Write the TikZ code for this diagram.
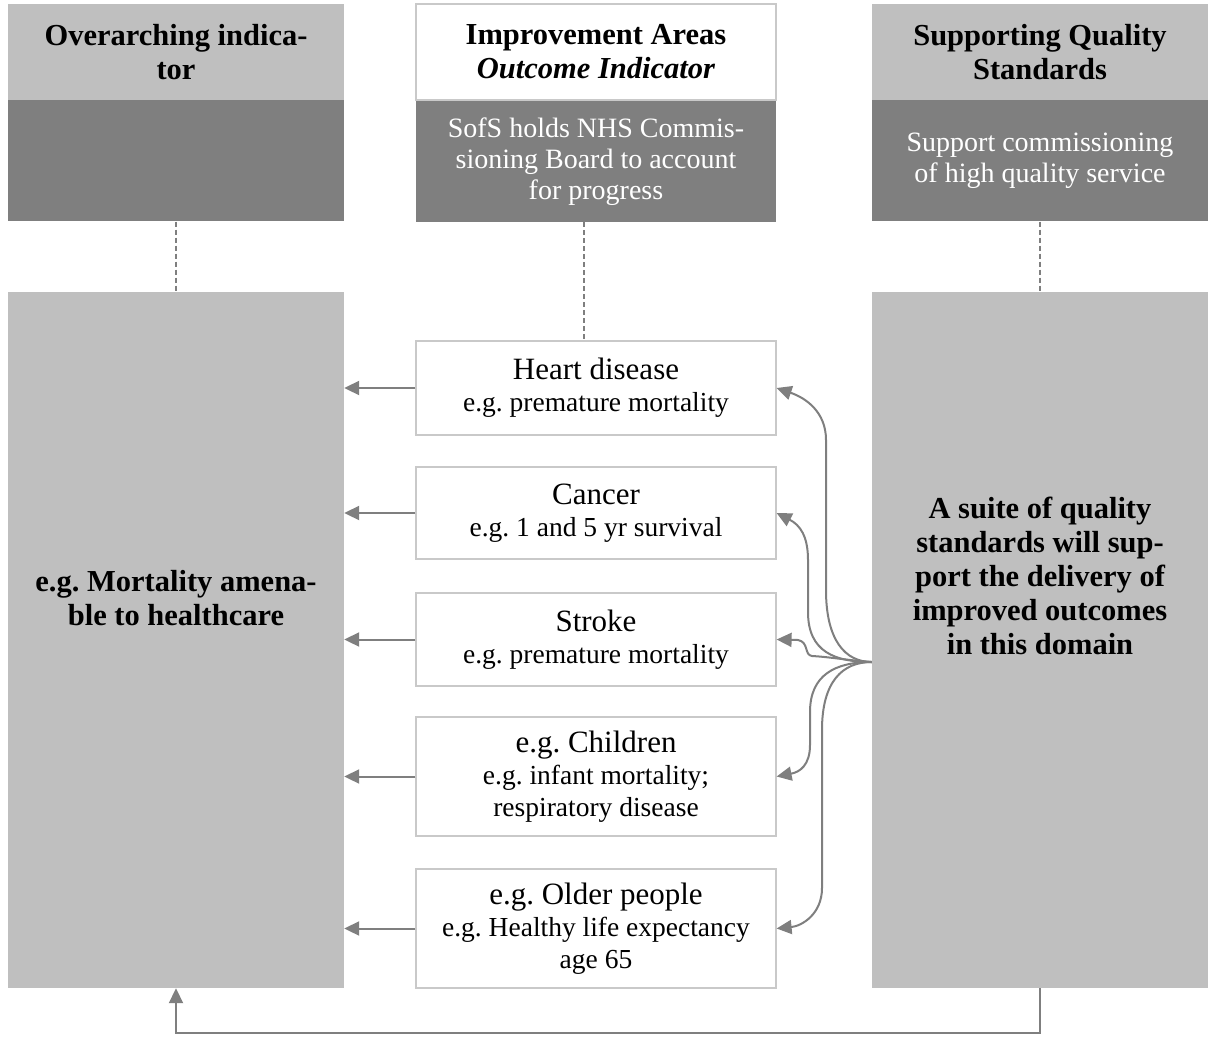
\documentclass[tikz,border=0pt]{standalone}
\usepackage{fontspec}
\setmainfont{Liberation Serif}
\frenchspacing
\usetikzlibrary{arrows.meta,positioning,calc}
\definecolor{lgray}{HTML}{BFBFBF}
\definecolor{dgray}{HTML}{7F7F7F}
\definecolor{edge}{HTML}{C9C9C9}
\definecolor{ln}{HTML}{7F7F7F}
\tikzset{
  headbox/.style={rectangle,fill=lgray,draw=none,minimum width=336pt,
    minimum height=96pt,inner sep=0pt,align=center,
    font=\fontsize{30.5}{34}\selectfont\bfseries},
  whitehead/.style={headbox,fill=white,draw=edge,line width=1.2pt,
    minimum width=360pt},
  darkbox/.style={rectangle,fill=dgray,draw=none,minimum width=336pt,
    minimum height=121pt,inner sep=0pt,align=center,text=white,
    font=\fontsize{28}{31}\selectfont},
  bigbox/.style={rectangle,fill=lgray,draw=none,minimum width=336pt,
    minimum height=696pt,inner sep=0pt},
  bigtext/.style={align=center,font=\fontsize{30.5}{34}\selectfont\bfseries},
  areabox/.style={rectangle,fill=white,draw=edge,line width=1.2pt,
    minimum width=360pt,inner sep=0pt,align=center,
    font=\fontsize{27.5}{32}\selectfont},
  % connectors
  arr/.style={-{Triangle[length=15pt,width=14pt]},draw=ln,line width=2pt},
  fan/.style={-{Triangle[length=15pt,width=14pt]},draw=ln,line width=2pt},
  linkline/.style={draw=ln,line width=1.5pt,dash pattern=on 5pt off 3pt}
}
\newcommand{\areatitle}[1]{{\fontsize{31}{32}\selectfont #1}}

\begin{document}
\begin{tikzpicture}[x=1pt,y=-1pt]
  \useasboundingbox (0,0) rectangle (1212,1038);
  % column headers
  \node[headbox] (ovh) at (176,52) {Overarching indica-\\tor};
  \node[darkbox,below=0pt of ovh] (ovd) {};
  \node[whitehead] (imh) at (596,52) {Improvement Areas\\\textit{Outcome Indicator}};
  \node[darkbox,minimum width=360pt,below=0pt of imh] (imd)
    {SofS holds NHS Commis-\\sioning Board to account\\for progress};
  \node[headbox] (sqh) at (1040,52) {Supporting Quality\\Standards};
  \node[darkbox,below=0pt of sqh] (sqd) {Support commissioning\\of high quality service};

  % side columns
  \node[bigbox] (mort) at (176,640) {};
  \node[bigtext] (mort-t) at (176,598) {e.g. Mortality amena-\\ble to healthcare};
  \node[bigbox] (qs) at (1040,640) {};
  \node[bigtext] (qs-t) at (1040,576) {A suite of quality\\standards will sup-\\port the delivery of\\improved outcomes\\in this domain};

  % improvement areas
  \node[areabox,minimum height=94pt] (heart) at (596,388)
    {\areatitle{Heart disease}\\e.g. premature mortality};
  \node[areabox,minimum height=92pt] (cancer) at (596,513)
    {\areatitle{Cancer}\\e.g. 1 and 5 yr survival};
  \node[areabox,minimum height=93pt] (stroke) at (596,639.5)
    {\areatitle{Stroke}\\e.g. premature mortality};
  \node[areabox,minimum height=119pt] (child) at (596,776.5)
    {\areatitle{e.g. Children}\\e.g. infant mortality;\\respiratory disease};
  \node[areabox,minimum height=119pt] (older) at (596,928.5)
    {\areatitle{e.g. Older people}\\e.g. Healthy life expectancy\\age 65};

  % dashed links
  \draw[linkline] (ovd.south) -- (mort.north);
  \draw[linkline] ([xshift=-12pt]imd.south) -- ([xshift=-12pt]heart.north);
  \draw[linkline] (sqd.south) -- (qs.north);

  % areas feed the overarching indicator
  \foreach \a in {heart,cancer,stroke,child,older}
    \draw[arr] (\a.west) -- (\a.west -| mort.east);

  % quality standards fan out to the areas
  \coordinate (fanpt) at ([yshift=-22pt]qs.west);
  \draw[fan] (fanpt) .. controls (845,662) and (826,640) .. (826,590) -- (826,440)
    .. controls (826,412) and (806,398) .. (heart.east);
  \draw[fan] (fanpt) .. controls (835,662) and (808,652) .. (808,612) -- (808,560)
    .. controls (808,536) and (800,525) .. (cancer.east);
  \draw[fan] (fanpt) .. controls (845,660) and (830,657) .. (812,656)
    .. controls (804,655) and (809,642) .. (798,640) -- (stroke.east);
  \draw[fan] (fanpt) .. controls (835,662) and (810,675) .. (810,712) -- (810,745)
    .. controls (810,765) and (800,772) .. (child.east);
  \draw[fan] (fanpt) .. controls (842,662) and (822,682) .. (822,730) -- (822,888)
    .. controls (822,914) and (802,926) .. (older.east);

  % back to the overarching indicator
  \draw[arr] (qs.south) -- ++(0,45) -| (mort.south);
\end{tikzpicture}
\end{document}
